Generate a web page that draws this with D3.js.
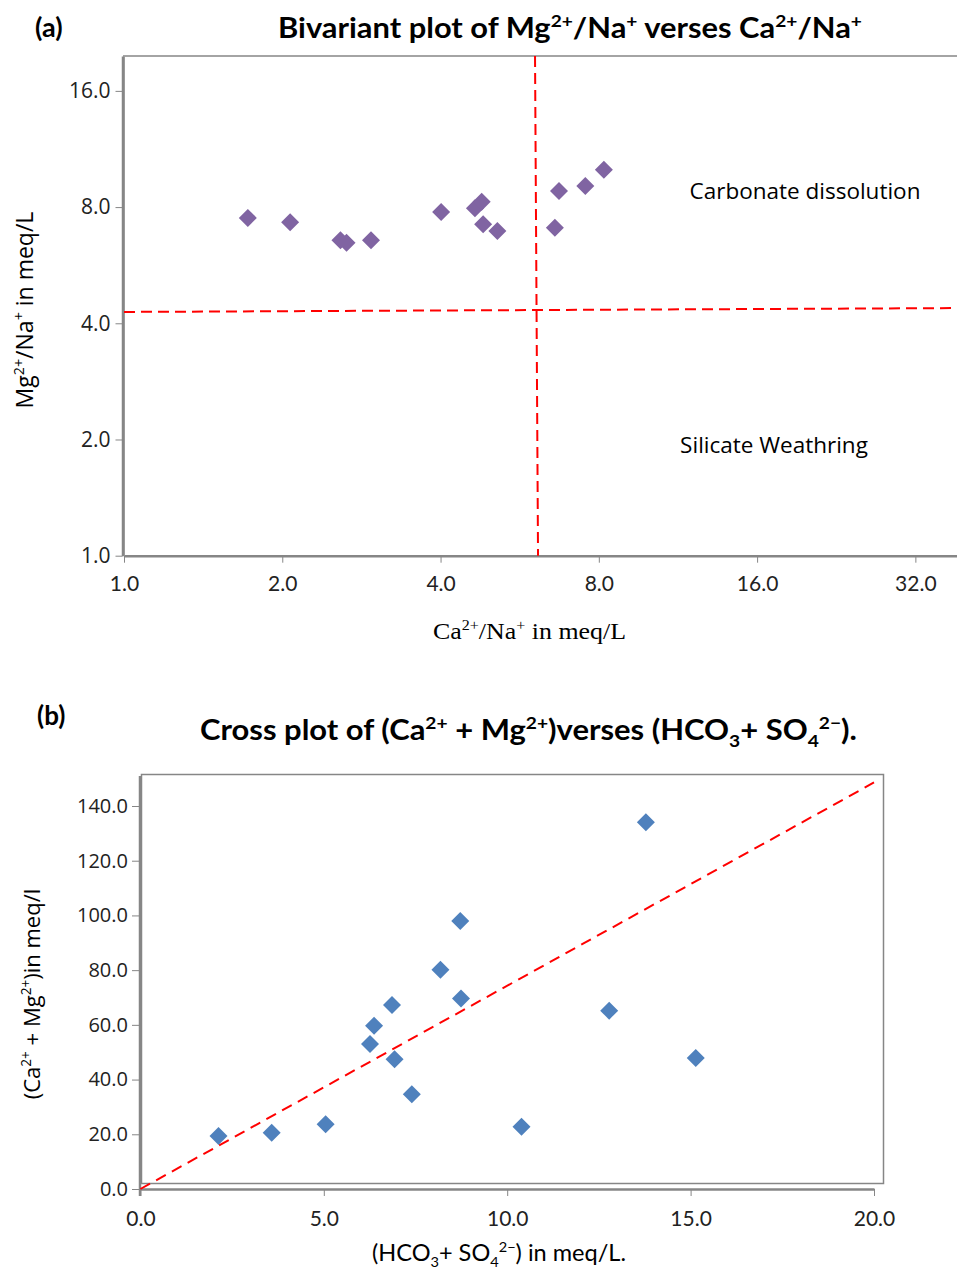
<!DOCTYPE html>
<html>
<head>
<meta charset="utf-8">
<script src="https://cdn.jsdelivr.net/npm/d3@7"></script>
<style>
  body { margin: 0; background: #fff; }
  svg { display: block; }
  .axis path, .axis line { stroke: #868686; }
  .axis text { fill: #222; }
</style>
</head>
<body>
<svg id="chart" width="957" height="1270"></svg>
<script>
// (a) Mg/Na vs Ca/Na, meq/L
var caNa = [1.72, 2.07, 2.58, 2.65, 2.95, 4.01, 4.65, 4.79, 4.82, 5.13, 6.60, 6.72, 7.54, 8.18];
var mgNa = [7.50, 7.31, 6.56, 6.47, 6.56, 7.77, 7.94, 8.26, 7.22, 6.94, 7.07, 8.81, 9.07, 10.0];
var ticksA_x = [1, 2, 4, 8, 16, 32];
var ticksA_y = [1, 2, 4, 8, 16];
// boundary lines (endpoints in data units)
var vLineA = [[6.05, 19.7], [6.13, 1]];
var hLineA = [[1, 4.28], [38.4, 4.38]];

// (b) Ca+Mg vs HCO3+SO4
var hco3So4 = [2.13, 3.58, 5.05, 6.26, 6.37, 6.86, 6.93, 7.40, 8.18, 8.72, 8.74, 10.39, 12.78, 13.78, 15.14];
var caMg = [19.4, 20.6, 23.7, 53.0, 59.7, 67.3, 47.4, 34.6, 80.1, 98.0, 69.6, 22.8, 65.2, 134.1, 47.9];
var ticksB_x = [0, 5, 10, 15, 20];
var ticksB_y = [0, 20, 40, 60, 80, 100, 120, 140];
var lineB = [[0, 0], [20, 148.6]];

var svg = d3.select("#chart");
var fmt = d3.format(".1f");

// write text with super/subscripts: parts = [[text, "n"|"sup"|"sub"], ...]
function richText(g, parts, size) {
    var t = g.append("text").style("font-size", size + "px");
    var cur = 0;
    parts.forEach(function (p) {
        var off = p[1] === "sup" ? -size * 0.4 : (p[1] === "sub" ? size * 0.25 : 0);
        t.append("tspan")
            .attr("dy", off - cur)
            .style("font-size", (p[1] === "n" ? size : size * 0.62) + "px")
            .text(p[0]);
        cur = off;
    });
    return t;
}

function diamond(s) {
    return "M0," + (-s) + "L" + s + ",0L0," + s + "L" + (-s) + ",0Z";
}

// ---------------- chart (a) ----------------
var xA = d3.scaleLog().base(2).domain([1, 38.4]).range([124, 957]);
var yA = d3.scaleLog().base(2).domain([1, 19.7]).range([555.7, 56]);

var gA = svg.append("g");

// plot frame (top + left)
gA.append("line").attr("x1", 123).attr("x2", 957).attr("y1", 56).attr("y2", 56)
    .style("stroke", "#868686").style("stroke-width", 1.5);
gA.append("line").attr("x1", 124.5).attr("x2", 124.5).attr("y1", 56).attr("y2", 555.7)
    .style("stroke", "#a0a0a0").style("stroke-width", 1);

var axA_y = gA.append("g").attr("class", "axis")
    .attr("transform", "translate(122.5,0)")
    .call(d3.axisLeft(yA).tickValues(ticksA_y).tickFormat(fmt).tickSize(7).tickSizeOuter(0));
axA_y.selectAll("text").style("font-family", "'Open Sans'").style("font-size", "21px").attr("x", -12);

var axA_x = gA.append("g").attr("class", "axis")
    .attr("transform", "translate(0,555.7)")
    .call(d3.axisBottom(xA).tickValues(ticksA_x).tickFormat(fmt).tickSize(7).tickSizeOuter(0));
axA_x.selectAll("text").style("font-family", "Lato").style("font-size", "21px").attr("y", 20);
gA.selectAll(".axis path").style("stroke-width", 2.5);

// red boundary lines
var lineGen = d3.line();
gA.append("path")
    .attr("d", lineGen(vLineA.map(function (d) { return [xA(d[0]), yA(d[1])]; })))
    .style("fill", "none").style("stroke", "#ff0000").style("stroke-width", 2)
    .style("stroke-dasharray", "11,6");
gA.append("path")
    .attr("d", lineGen(hLineA.map(function (d) { return [xA(d[0]), yA(d[1])]; })))
    .style("fill", "none").style("stroke", "#ff0000").style("stroke-width", 2)
    .style("stroke-dasharray", "11,6");

gA.selectAll("path.pt")
    .data(caNa)
    .enter()
    .append("path")
    .attr("class", "pt")
    .attr("d", diamond(9))
    .attr("transform", function (d, i) {
        return "translate(" + xA(d) + "," + yA(mgNa[i]) + ")";
    })
    .style("fill", "#8064a2");

// titles and labels
svg.append("text").attr("x", 35).attr("y", 37)
    .style("font-family", "Lato").style("font-weight", "bold").style("font-size", "27px")
    .text("(a)");

richText(svg, [["Bivariant plot of Mg", "n"], ["2+", "sup"], ["/Na", "n"], ["+", "sup"],
    [" verses Ca", "n"], ["2+", "sup"], ["/Na", "n"], ["+", "sup"]], 28)
    .attr("x", 278).attr("y", 38)
    .attr("textLength", 584).attr("lengthAdjust", "spacingAndGlyphs")
    .style("font-family", "Lato").style("font-weight", "bold");

richText(svg, [["Mg", "n"], ["2+", "sup"], ["/Na", "n"], ["+", "sup"], [" in meq/L", "n"]], 23)
    .attr("transform", "translate(33,310) rotate(-90)")
    .attr("text-anchor", "middle")
    .style("font-family", "'Open Sans'");

richText(svg, [["Ca", "n"], ["2+", "sup"], ["/Na", "n"], ["+", "sup"], [" in meq/L", "n"]], 23)
    .attr("x", 433).attr("y", 639)
    .attr("textLength", 193).attr("lengthAdjust", "spacingAndGlyphs")
    .style("font-family", "'Liberation Serif'");

svg.append("text").attr("x", 805).attr("y", 199).attr("text-anchor", "middle")
    .style("font-family", "'Open Sans'").style("font-size", "22.5px")
    .text("Carbonate dissolution");
svg.append("text").attr("x", 774).attr("y", 453).attr("text-anchor", "middle")
    .style("font-family", "'Open Sans'").style("font-size", "22.5px")
    .text("Silicate Weathring");

// ---------------- chart (b) ----------------
var xB = d3.scaleLinear().domain([0, 20]).range([140.4, 874]);
var yB = d3.scaleLinear().domain([0, 140]).range([1189, 806]);

var gB = svg.append("g");

gB.append("rect").attr("x", 141.5).attr("y", 774.5).attr("width", 742).attr("height", 409)
    .style("fill", "none").style("stroke", "#868686").style("stroke-width", 1.5);

var axB_y = gB.append("g").attr("class", "axis")
    .attr("transform", "translate(140,0)")
    .call(d3.axisLeft(yB).tickValues(ticksB_y).tickFormat(fmt).tickSize(8).tickSizeOuter(0));
axB_y.select(".domain").attr("d", "M0,776V1196");
axB_y.selectAll("text").style("font-family", "'Open Sans'").style("font-size", "20px").attr("x", -12);

var axB_x = gB.append("g").attr("class", "axis")
    .attr("transform", "translate(0,1189)")
    .call(d3.axisBottom(xB).tickValues(ticksB_x).tickFormat(fmt).tickSize(7).tickSizeOuter(0));
axB_x.selectAll("text").style("font-family", "Lato").style("font-size", "21px").attr("y", 22);
gB.selectAll(".axis path").style("stroke-width", 2.5);

gB.append("path")
    .attr("d", lineGen(lineB.map(function (d) { return [xB(d[0]), yB(d[1])]; })))
    .style("fill", "none").style("stroke", "#ff0000").style("stroke-width", 2)
    .style("stroke-dasharray", "11,7");

gB.selectAll("path.pt")
    .data(hco3So4)
    .enter()
    .append("path")
    .attr("class", "pt")
    .attr("d", diamond(9))
    .attr("transform", function (d, i) {
        return "translate(" + xB(d) + "," + yB(caMg[i]) + ")";
    })
    .style("fill", "#4f81bd");

svg.append("text").attr("x", 37).attr("y", 725)
    .style("font-family", "Lato").style("font-weight", "bold").style("font-size", "26px")
    .text("(b)");

richText(svg, [["Cross plot of (Ca", "n"], ["2+", "sup"], [" + Mg", "n"], ["2+", "sup"],
    [")verses  (HCO", "n"], ["3", "sub"], ["+ SO", "n"], ["4", "sub"], ["2\u2212", "sup"], [").", "n"]], 28)
    .attr("x", 200).attr("y", 740)
    .attr("textLength", 657).attr("lengthAdjust", "spacingAndGlyphs")
    .style("font-family", "Lato").style("font-weight", "bold");

richText(svg, [["(Ca", "n"], ["2+", "sup"], [" + Mg", "n"], ["2+", "sup"], [")in meq/l", "n"]], 22)
    .attr("transform", "translate(40,994) rotate(-90)")
    .attr("text-anchor", "middle")
    .style("font-family", "'Open Sans'");

richText(svg, [["(HCO", "n"], ["3", "sub"], ["+ SO", "n"], ["4", "sub"], ["2\u2212", "sup"], [") in meq/L.", "n"]], 23)
    .attr("x", 372).attr("y", 1261)
    .attr("textLength", 254).attr("lengthAdjust", "spacingAndGlyphs")
    .style("font-family", "Lato");
</script>
</body>
</html>
